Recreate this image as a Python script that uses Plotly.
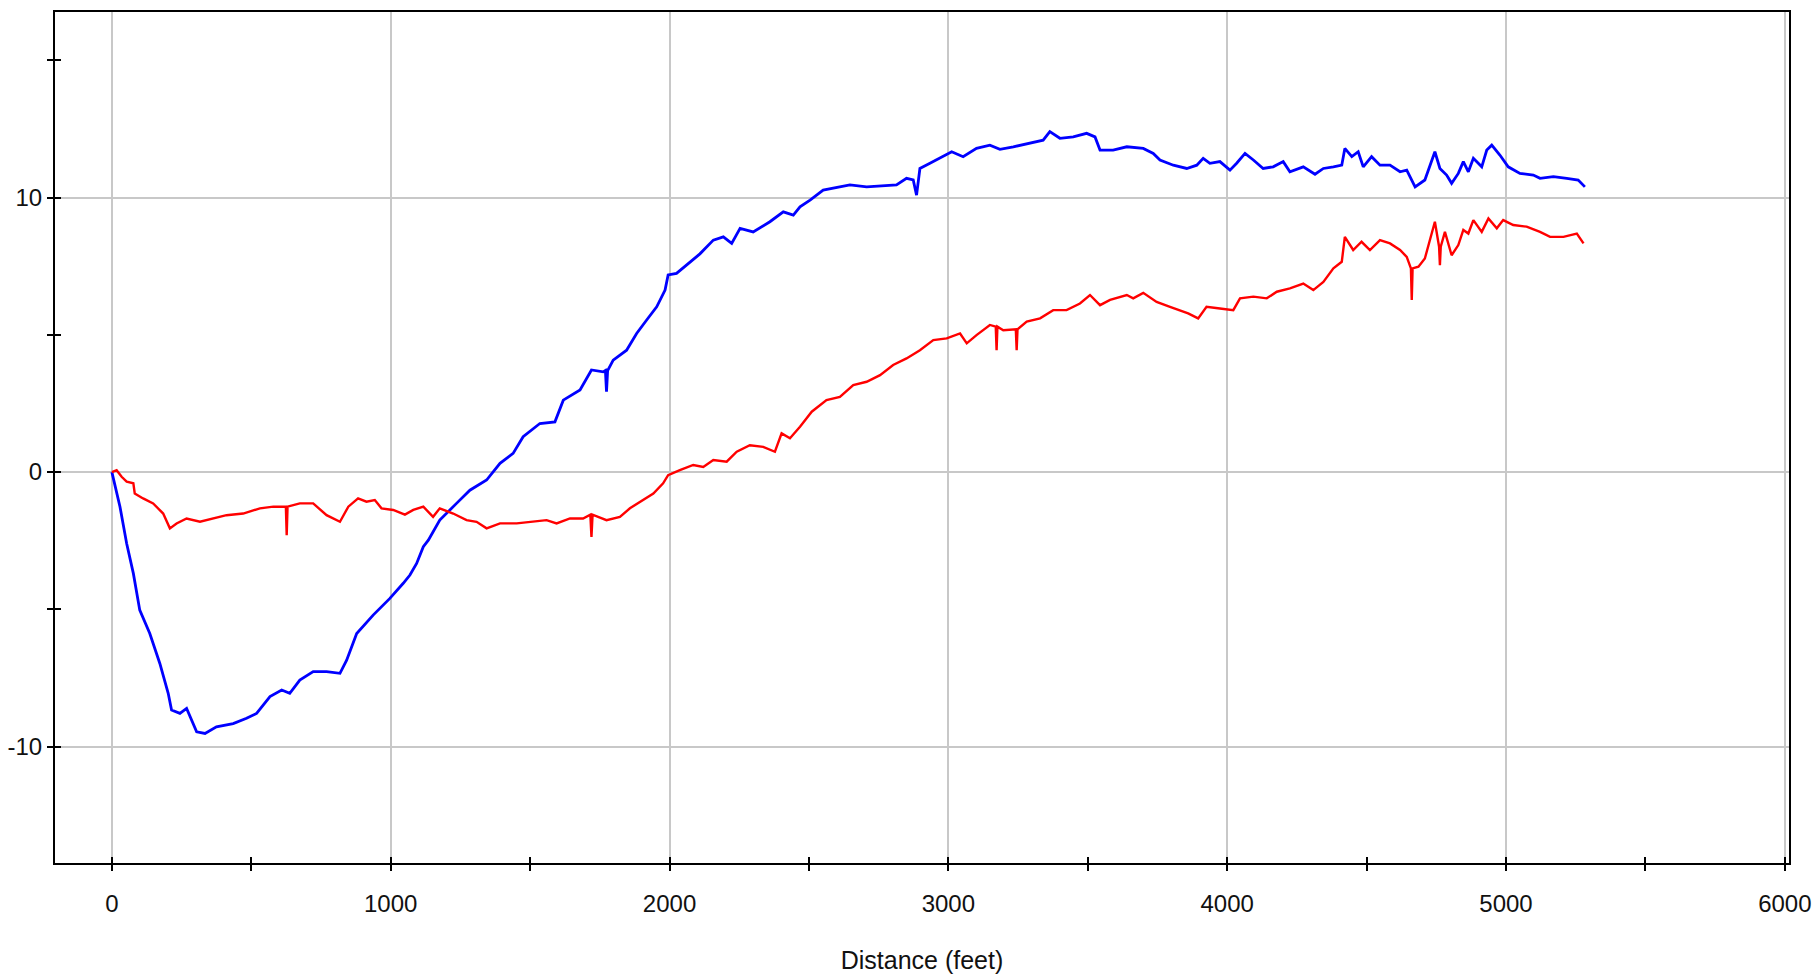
import plotly.graph_objects as go

# Blue series (distance ft, value)
blue_x = [0, 29, 53, 77, 100, 136, 172, 202, 214, 244, 268, 280, 304, 334, 375, 435, 483, 519, 567, 609,
          638, 674, 722, 770, 818, 842, 878, 937, 997, 1045, 1069, 1093, 1117, 1135, 1176, 1236, 1284, 1344,
          1392, 1439, 1475, 1535, 1589, 1619, 1679, 1720, 1762, 1770, 1774, 1778, 1798, 1846, 1882, 1918,
          1954, 1984, 1995, 2025, 2061, 2109, 2157, 2193, 2223, 2253, 2300, 2360, 2408, 2444, 2468, 2504,
          2551, 2587, 2647, 2707, 2766, 2814, 2850, 2874, 2886, 2898, 2934, 2970, 3012, 3053, 3101, 3149,
          3185, 3233, 3293, 3340, 3364, 3400, 3448, 3496, 3526, 3544, 3591, 3640, 3699, 3735, 3759, 3807,
          3855, 3891, 3914, 3938, 3974, 4010, 4034, 4064, 4094, 4129, 4165, 4201, 4225, 4273, 4315, 4345,
          4381, 4411, 4422, 4447, 4470, 4488, 4518, 4548, 4584, 4620, 4644, 4674, 4709, 4727, 4745, 4763,
          4787, 4805, 4829, 4847, 4865, 4883, 4913, 4931, 4949, 4978, 5008, 5050, 5098, 5122, 5170, 5218,
          5259, 5283]
blue_y = [0, -1.26, -2.6, -3.69, -5.03, -5.88, -6.97, -8.06, -8.67, -8.79, -8.61, -8.91, -9.46, -9.52, -9.28,
          -9.16, -8.97, -8.79, -8.18, -7.94, -8.06, -7.58, -7.27, -7.27, -7.33, -6.85, -5.88, -5.21, -4.6,
          -4.05, -3.75, -3.33, -2.72, -2.48, -1.75, -1.14, -0.66, -0.29, 0.32, 0.68, 1.29, 1.77, 1.83, 2.62,
          2.99, 3.72, 3.65, 3.7, 2.93, 3.7, 4.08, 4.44, 5.05, 5.54, 6.02, 6.63, 7.18, 7.24, 7.54, 7.95, 8.45,
          8.57, 8.33, 8.88, 8.75, 9.12, 9.48, 9.36, 9.66, 9.91, 10.27, 10.34, 10.46, 10.39, 10.42, 10.46,
          10.7, 10.64, 10.09, 11.06, 11.25, 11.43, 11.67, 11.49, 11.79, 11.91, 11.76, 11.85, 12.0, 12.09,
          12.4, 12.16, 12.21, 12.34, 12.21, 11.73, 11.73, 11.85, 11.79, 11.61, 11.37, 11.18, 11.06, 11.18,
          11.43, 11.25, 11.31, 11.0, 11.25, 11.61, 11.37, 11.06, 11.12, 11.31, 10.94, 11.12, 10.85, 11.06,
          11.12, 11.18, 11.79, 11.49, 11.67, 11.12, 11.49, 11.18, 11.18, 10.94, 11.0, 10.39, 10.64, 11.18,
          11.67, 11.06, 10.82, 10.52, 10.88, 11.31, 10.94, 11.43, 11.12, 11.73, 11.91, 11.55, 11.12, 10.88,
          10.82, 10.7, 10.76, 10.7, 10.64, 10.39]

# Red series (distance ft, value)
red_x = [0, 17, 35, 53, 77, 82, 112, 148, 184, 208, 232, 268, 316, 363, 411, 471, 531, 579, 624, 627, 630,
         674, 722, 770, 818, 848, 883, 913, 943, 967, 1009, 1051, 1081, 1117, 1152, 1176, 1224, 1272, 1308,
         1344, 1392, 1452, 1511, 1559, 1595, 1643, 1690, 1716, 1720, 1724, 1774, 1822, 1858, 1894, 1942,
         1977, 1995, 2037, 2085, 2121, 2157, 2205, 2241, 2288, 2336, 2378, 2402, 2432, 2468, 2510, 2563,
         2611, 2659, 2707, 2755, 2802, 2850, 2898, 2946, 2994, 3042, 3066, 3101, 3149, 3170, 3173, 3176,
         3197, 3242, 3245, 3248, 3281, 3329, 3376, 3424, 3472, 3508, 3544, 3580, 3640, 3663, 3699, 3747,
         3795, 3831, 3860, 3896, 3926, 3974, 4022, 4046, 4094, 4142, 4178, 4225, 4273, 4309, 4345, 4381,
         4411, 4422, 4452, 4482, 4512, 4548, 4584, 4620, 4644, 4659, 4662, 4665, 4686, 4709, 4733, 4745,
         4760, 4763, 4766, 4781, 4805, 4829, 4847, 4865, 4883, 4913, 4937, 4967, 4990, 5026, 5074, 5122,
         5158, 5206, 5254, 5278]
red_y = [0, 0.07, -0.17, -0.35, -0.41, -0.78, -0.96, -1.14, -1.51, -2.05, -1.87, -1.69, -1.81, -1.69, -1.57,
         -1.51, -1.32, -1.26, -1.26, -2.3, -1.26, -1.14, -1.14, -1.57, -1.81, -1.26, -0.96, -1.08, -1.02,
         -1.32, -1.38, -1.55, -1.38, -1.26, -1.63, -1.32, -1.51, -1.75, -1.81, -2.05, -1.87, -1.87, -1.81,
         -1.75, -1.87, -1.69, -1.69, -1.55, -2.36, -1.55, -1.75, -1.63, -1.32, -1.08, -0.78, -0.41, -0.11,
         0.07, 0.26, 0.19, 0.44, 0.38, 0.74, 0.98, 0.92, 0.74, 1.41, 1.23, 1.65, 2.2, 2.62, 2.74, 3.17, 3.29,
         3.53, 3.9, 4.14, 4.44, 4.81, 4.87, 5.05, 4.69, 4.99, 5.36, 5.3, 4.44, 5.3, 5.17, 5.2, 4.44, 5.2, 5.48,
         5.6, 5.9, 5.9, 6.14, 6.45, 6.08, 6.27, 6.45, 6.33, 6.53, 6.2, 6.02, 5.9, 5.78, 5.6, 6.02, 5.96, 5.9,
         6.33, 6.39, 6.33, 6.57, 6.69, 6.87, 6.63, 6.93, 7.42, 7.66, 8.57, 8.09, 8.39, 8.09, 8.45, 8.33,
         8.09, 7.84, 7.42, 6.27, 7.42, 7.48, 7.78, 8.63, 9.12, 8.21, 7.54, 8.21, 8.75, 7.9, 8.27, 8.82, 8.69,
         9.18, 8.75, 9.24, 8.88, 9.18, 9.0, 8.94, 8.75, 8.57, 8.57, 8.69, 8.33]

x_major = [0, 1000, 2000, 3000, 4000, 5000, 6000]
x_labels = ["0", "1000", "2000", "3000", "4000", "5000", "6000"]
y_major = [-10, 0, 10]
y_labels = ["-10", "0", "10"]
x_title = "Distance (feet)"

FONT = "Liberation Sans, Arial, sans-serif"
X_RANGE = [-204, 6015]
Y_RANGE = [-14.24, 16.76]

fig = go.Figure()
fig.add_trace(go.Scatter(x=blue_x, y=blue_y, mode="lines", line=dict(color="#0000ff", width=2.8),
                         showlegend=False, hoverinfo="skip"))
fig.add_trace(go.Scatter(x=red_x, y=red_y, mode="lines", line=dict(color="#ff0000", width=2.4),
                         showlegend=False, hoverinfo="skip"))

fig.update_layout(
    width=1813, height=978,
    margin=dict(l=55, r=24, t=12, b=115),
    paper_bgcolor="white", plot_bgcolor="white",
    font=dict(family=FONT, size=24, color="#111111"),
    xaxis=dict(
        range=X_RANGE, tickmode="array", tickvals=x_major, ticktext=x_labels,
        automargin=False, ticklabeloverflow="allow",
        showgrid=True, gridcolor="#c8c8c8", gridwidth=2, zeroline=False,
        showline=True, linecolor="#000000", linewidth=2, mirror=True,
        ticks="outside", ticklen=6, tickwidth=2, tickcolor="#000000",
        ticklabelstandoff=12,
        minor=dict(dtick=500, tick0=0, ticks="outside", ticklen=6, tickwidth=2, tickcolor="#000000", showgrid=False),
        title=dict(text=x_title, standoff=36, font=dict(family=FONT, size=25)),
    ),
    yaxis=dict(
        range=Y_RANGE, tickmode="array", tickvals=y_major, ticktext=y_labels,
        automargin=False, ticklabeloverflow="allow",
        showgrid=True, gridcolor="#c8c8c8", gridwidth=2, zeroline=False,
        showline=True, linecolor="#000000", linewidth=2, mirror=True,
        ticks="outside", ticklen=6, tickwidth=2, tickcolor="#000000",
        ticklabelstandoff=0,
        minor=dict(dtick=5, tick0=0, ticks="outside", ticklen=6, tickwidth=2, tickcolor="#000000", showgrid=False),
    ),
    xaxis2=dict(
        range=X_RANGE, overlaying="x", anchor="y", side="bottom", matches="x", automargin=False,
        tickmode="linear", tick0=0, dtick=500, ticks="inside", ticklen=6, tickwidth=2, tickcolor="#000000",
        showticklabels=False, showgrid=False, zeroline=False, showline=False,
    ),
    yaxis2=dict(
        range=Y_RANGE, overlaying="y", anchor="x", side="left", matches="y", automargin=False,
        tickmode="linear", tick0=0, dtick=5, ticks="inside", ticklen=6, tickwidth=2, tickcolor="#000000",
        showticklabels=False, showgrid=False, zeroline=False, showline=False,
    ),
)
# invisible helper trace so the overlay axes are drawn
fig.add_trace(go.Scatter(x=[None], y=[None], xaxis="x2", yaxis="y2", showlegend=False, hoverinfo="skip"))

fig.write_html("out.html",
               config={"displayModeBar": False, "staticPlot": True},
               post_script="document.body.style.margin='0';document.body.style.overflow='hidden';")
